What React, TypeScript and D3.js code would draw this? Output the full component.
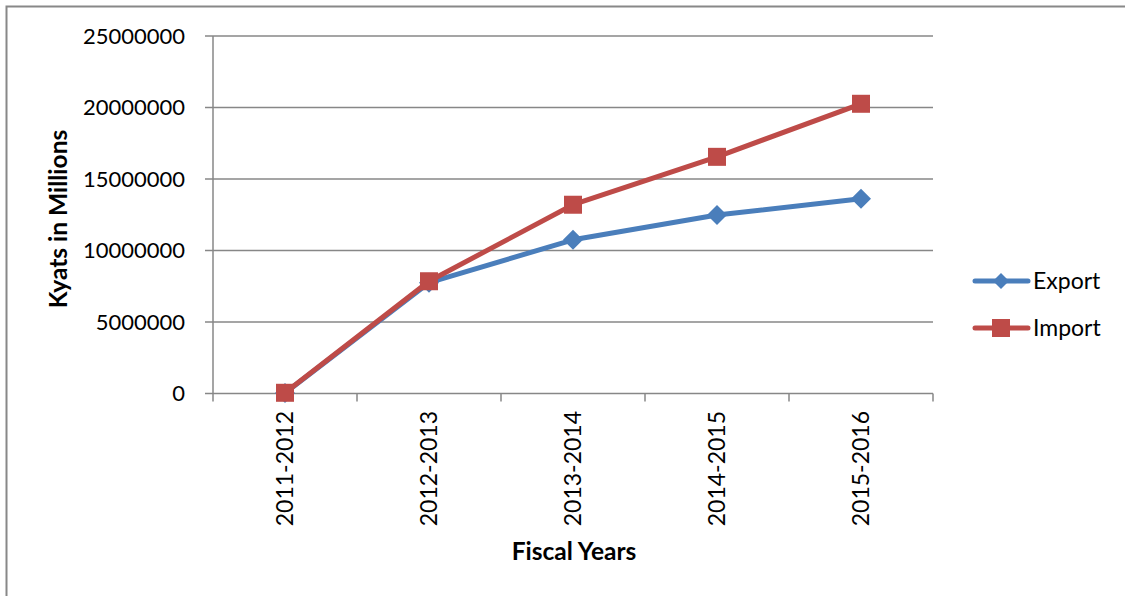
import React from "react";
import * as d3 from "d3";

const categories = ["2011-2012", "2012-2013", "2013-2014", "2014-2015", "2015-2016"];
const exportValues = [40000, 7750000, 10750000, 12480000, 13620000];
const importValues = [50000, 7850000, 13200000, 16550000, 20260000];
const yTicks = [0, 5000000, 10000000, 15000000, 20000000, 25000000];

const W = 1125, H = 596;
const left = 213, right = 933, top = 36, bottom = 393.5;
const font = "Lato, 'Open Sans', sans-serif";
const BLUE = "#4A7EBB";
const RED = "#BE4B48";
const GRID = "#878787";

export default function App() {
  const x = d3.scaleBand<string>().domain(categories).range([left, right]);
  const y = d3.scaleLinear().domain([0, 25000000]).range([bottom, top]);
  const cx = (c: string) => (x(c) as number) + x.bandwidth() / 2;
  const line = d3.line<number>().x((_, i) => cx(categories[i])).y((v) => y(v));
  const diamond = (px: number, py: number, r: number) =>
    `M${px},${py - r}L${px + r},${py}L${px},${py + r}L${px - r},${py}Z`;
  const bounds = [...categories.map((c) => x(c) as number), right];

  return (
    <svg width={W} height={H} style={{ position: "absolute", left: 0, top: 0, display: "block" }}>
      <rect x={0} y={0} width={W} height={H} fill="#fff" />
      <rect x={6.5} y={6.5} width={W + 10} height={H + 10} fill="none" stroke="#888" strokeWidth={2} />
      {yTicks.map((t) => (
        <g key={t}>
          <line x1={205} x2={right} y1={y(t)} y2={y(t)} stroke={GRID} strokeWidth={1.5} />
          <text x={185} y={y(t)} dy="0.35em" textAnchor="end" fontFamily={font} fontSize={22} fill="#000">
            {t}
          </text>
        </g>
      ))}
      <line x1={left} x2={left} y1={top} y2={bottom} stroke={GRID} strokeWidth={1.5} />
      {bounds.map((b, i) => (
        <line key={i} x1={b} x2={b} y1={bottom} y2={bottom + 8} stroke={GRID} strokeWidth={1.5} />
      ))}
      {categories.map((c) => (
        <text
          key={c}
          transform={`translate(${cx(c)},${411}) rotate(-90)`}
          textAnchor="end"
          dy="0.35em"
          fontFamily={font}
          fontSize={23}
          fill="#000"
        >
          {c}
        </text>
      ))}
      <path d={line(exportValues) || ""} fill="none" stroke={BLUE} strokeWidth={5} strokeLinejoin="round" />
      {exportValues.map((v, i) => (
        <path key={i} d={diamond(cx(categories[i]), y(v), 10)} fill={BLUE} />
      ))}
      <path d={line(importValues) || ""} fill="none" stroke={RED} strokeWidth={5} strokeLinejoin="round" />
      {importValues.map((v, i) => (
        <rect key={i} x={cx(categories[i]) - 9} y={y(v) - 9} width={18} height={18} fill={RED} />
      ))}
      <text
        transform={`translate(58,219) rotate(-90)`}
        textAnchor="middle"
        dy="0.35em"
        fontFamily={font}
        fontWeight="bold"
        fontSize={24.5}
        fill="#000"
      >
        Kyats in Millions
      </text>
      <text x={574} y={560} textAnchor="middle" fontFamily={font} fontWeight="bold" fontSize={24.5} fill="#000">
        Fiscal Years
      </text>
      {/* legend */}
      <g>
        <line x1={975} x2={1028} y1={281} y2={281} stroke={BLUE} strokeWidth={5} strokeLinecap="round" />
        <path d={diamond(1001, 281, 8)} fill={BLUE} />
        <text x={1033} y={281} dy="0.35em" fontFamily={font} fontSize={23} fill="#000">Export</text>
        <line x1={975} x2={1028} y1={328} y2={328} stroke={RED} strokeWidth={5} strokeLinecap="round" />
        <rect x={992} y={319} width={18} height={18} fill={RED} />
        <text x={1033} y={328} dy="0.35em" fontFamily={font} fontSize={23} fill="#000">Import</text>
      </g>
    </svg>
  );
}
